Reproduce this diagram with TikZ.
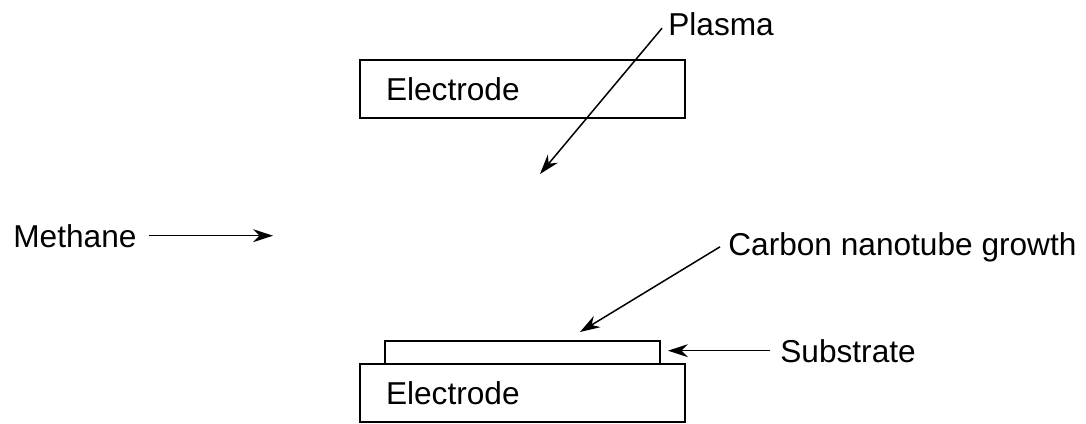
\documentclass[tikz,border=0pt]{standalone}
\usepackage{fontspec}
\setmainfont{Liberation Sans}
\usepackage{tikz}
\usetikzlibrary{arrows.meta,positioning}
\tikzset{
  electrodo/.style = {draw, line width=0.85pt, align=left, text width=54.6mm,
                      inner xsep=5.2mm, inner ysep=0pt, outer sep=0pt,
                      minimum height=11.6mm, font=\fontsize{18}{20}\selectfont},
  sustrato/.style  = {draw, line width=0.85pt, minimum width=55mm,
                      minimum height=4.6mm, inner sep=0pt, outer sep=0pt},
  etiqueta/.style  = {anchor=base west, inner sep=0pt,
                      font=\fontsize{18}{20}\selectfont},
  flecha/.style    = {-{Stealth[length=4mm, width=2.6mm, inset=1.3mm]}, line width=0.85pt},
}
\begin{document}
\begin{tikzpicture}[x=0.2mm, y=-0.2mm]
  \useasboundingbox (0,0) rectangle (1086,423);
  % electrodos y sustrato
  \node[electrodo] (eltop) at (522.5,89) {Electrode};
  \node[electrodo, below=49.2mm of eltop] (elbot) {Electrode};
  \node[sustrato, above=0pt of elbot] (sust) {};
  % etiquetas
  \node[etiqueta] (plasma) at (668,35) {Plasma};
  \node[etiqueta] (metano) at (13,247) {Methane};
  \node[etiqueta] (nanotubo) at (728,255) {Carbon nanotube growth};
  \node[etiqueta] (etsust) at (780,362) {Substrate};
  \coordinate (zona) at (540,174);
  \coordinate (entrada) at (273,237);
  % flechas
  \draw[flecha] ([shift={(-1.2mm,-0.9mm)}]plasma.west) -- (zona);
  \draw[flecha] ([xshift=2.4mm]metano.east) -- (metano.east -| entrada);
  \draw[flecha] ([xshift=-1.6mm]nanotubo.west) -- ([shift={(11.5mm,1.8mm)}]sust.north);
  \draw[flecha] ([xshift=-2mm]etsust.west) -- ([xshift=1.6mm]etsust.west -| sust.east);
\end{tikzpicture}
\end{document}
